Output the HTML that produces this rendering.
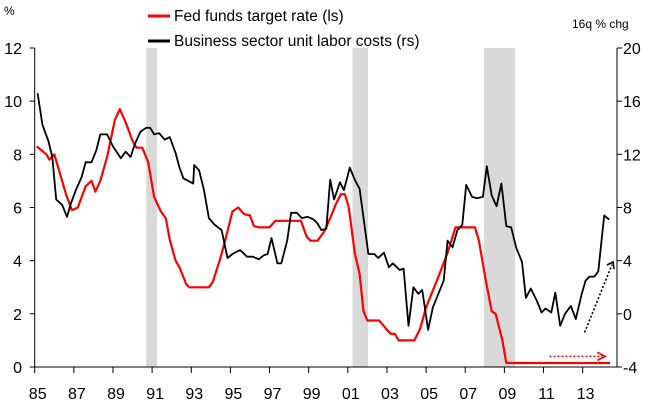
<!DOCTYPE html>
<html><head><meta charset="utf-8"><style>
body{margin:0;background:#fff;}
svg{display:block;font-family:"Liberation Sans",Arial,sans-serif;}
</style></head><body>
<svg id="c" width="653" height="404"></svg>
<script>
const recessions=[[1990.7,1991.25],[2001.24,2002.03],[2007.95,2009.55]];
const fedYears=[1985.1,1985.6,1985.75,1986.0,1986.2,1986.6,1986.9,1987.2,1987.6,1987.9,1988.1,1988.35,1988.7,1989.1,1989.35,1989.65,1990.0,1990.2,1990.5,1990.8,1991.1,1991.45,1991.7,1991.9,1992.2,1992.4,1992.75,1992.9,1993.9,1994.1,1994.45,1994.75,1995.1,1995.4,1995.7,1996.0,1996.2,1996.5,1997.0,1997.3,1998.6,1998.9,1999.1,1999.45,1999.8,2000.1,2000.4,2000.65,2000.85,2001.05,2001.35,2001.6,2001.8,2002.0,2002.6,2003.0,2003.2,2003.4,2003.6,2004.4,2004.7,2005.0,2005.55,2006.1,2006.5,2007.5,2007.7,2008.05,2008.35,2008.55,2008.9,2009.1,2014.4];
const fedRates=[8.3,8.0,7.8,8.0,7.5,6.5,5.9,6.0,6.8,7.0,6.6,7.0,7.9,9.3,9.7,9.2,8.5,8.25,8.25,7.7,6.4,5.85,5.6,4.8,4.0,3.75,3.1,3.0,3.0,3.2,4.0,4.8,5.85,6.0,5.75,5.7,5.3,5.25,5.25,5.5,5.5,4.9,4.75,4.75,5.1,5.6,6.15,6.5,6.5,6.0,4.3,3.5,2.1,1.75,1.75,1.4,1.25,1.25,1.0,1.0,1.45,2.25,3.25,4.3,5.25,5.25,4.75,3.25,2.1,2.0,1.0,0.15,0.15];
const ulcYears=[1985.15,1985.4,1985.7,1985.9,1986.1,1986.4,1986.65,1986.85,1987.1,1987.4,1987.6,1987.9,1988.15,1988.35,1988.7,1989.0,1989.4,1989.65,1989.9,1990.1,1990.4,1990.7,1990.9,1991.1,1991.35,1991.65,1991.9,1992.2,1992.4,1992.6,1993.1,1993.15,1993.4,1993.65,1993.9,1994.2,1994.55,1994.85,1995.1,1995.5,1995.85,1996.15,1996.45,1996.7,1996.9,1997.1,1997.4,1997.6,1997.9,1998.1,1998.4,1998.65,1998.95,1999.25,1999.45,1999.65,1999.9,2000.1,2000.3,2000.6,2000.8,2001.1,2001.35,2001.6,2002.05,2002.35,2002.55,2002.85,2003.1,2003.3,2003.65,2003.85,2004.1,2004.35,2004.6,2004.8,2005.1,2005.35,2005.6,2005.9,2006.1,2006.35,2006.6,2006.85,2007.05,2007.35,2007.6,2007.9,2008.1,2008.35,2008.6,2008.85,2009.1,2009.35,2009.6,2009.9,2010.1,2010.35,2010.65,2010.9,2011.1,2011.4,2011.6,2011.85,2012.1,2012.4,2012.65,2012.95,2013.15,2013.35,2013.6,2013.8,2014.1,2014.35];
const ulcValues=[16.6,14.2,13.0,11.8,8.6,8.2,7.3,8.3,9.3,10.3,11.4,11.4,12.3,13.5,13.5,12.6,11.7,12.2,11.8,12.7,13.7,14.0,14.0,13.5,13.6,13.1,13.3,12.1,11.0,10.2,9.8,11.2,10.8,9.3,7.2,6.7,6.3,4.2,4.5,4.8,4.3,4.3,4.1,4.4,4.5,5.7,3.8,3.8,5.5,7.6,7.6,7.2,7.3,7.1,6.8,6.3,6.4,10.1,8.6,9.9,9.3,11.0,10.1,9.4,4.5,4.5,4.2,4.6,3.5,3.8,3.3,3.4,-0.9,2.0,1.5,1.8,-1.2,0.5,1.4,2.5,5.5,5.0,6.3,6.7,9.7,8.8,8.7,8.8,11.1,8.9,8.1,9.8,6.6,6.5,5.0,3.9,1.2,1.9,1.0,0.1,0.4,0.1,1.6,-0.9,0.0,0.6,-0.4,1.5,2.5,2.8,2.8,3.2,7.4,7.1];
const leftTicks=[0,2,4,6,8,10,12];
const rightTicks=[-4,0,4,8,12,16,20];
const xTickYears=[1985,1987,1989,1991,1993,1995,1997,1999,2001,2003,2005,2007,2009,2011,2013];
const xTickLabels=["85","87","89","91","93","95","97","99","01","03","05","07","09","11","13"];

const NS="http://www.w3.org/2000/svg";
const svg=document.getElementById('c');
const X0=34.7,X1=617,Y0=367,Y1=48;
const x=y=>X0+(y-1985)*19.57;
const yl=v=>Y0-(v/12)*(Y0-Y1);
const yr=v=>Y0-((v+4)/24)*(Y0-Y1);
function el(t,a,txt){const e=document.createElementNS(NS,t);for(const k in a)e.setAttribute(k,a[k]);if(txt!=null)e.textContent=txt;svg.appendChild(e);return e;}

recessions.forEach((r,i)=>{
 const e=el('rect',{x:x(r[0]),y:Y1,width:x(r[1])-x(r[0]),height:Y0-Y1,fill:'#d9d9d9'});
 
 
});
let a=el('line',{x1:X0,y1:Y1,x2:X0,y2:Y0,stroke:'#000'});

a=el('line',{x1:X1,y1:Y1,x2:X1,y2:Y0,stroke:'#000'});

a=el('line',{x1:X0,y1:Y0,x2:X1,y2:Y0,stroke:'#000'});

leftTicks.forEach(v=>{
 el('line',{x1:X0-5,y1:yl(v),x2:X0,y2:yl(v),stroke:'#000'});
 const t=el('text',{x:22,y:yl(v)+6,'text-anchor':'end','font-size':16,fill:'#000'},String(v));
 
});
rightTicks.forEach(v=>{
 el('line',{x1:X1,y1:yr(v),x2:X1+5,y2:yr(v),stroke:'#000'});
 const t=el('text',{x:623,y:yr(v)+6,'font-size':16,fill:'#000'},String(v));
 
});
xTickYears.forEach((yv,i)=>{
 el('line',{x1:x(yv),y1:Y0,x2:x(yv),y2:Y0+6,stroke:'#000'});
 const t=el('text',{x:x(yv)+3,y:399,'text-anchor':'middle','font-size':16,fill:'#000'},xTickLabels[i]);
 
});
function path(xs,vs,fy,col,w,name){
 const d=xs.map((v,i)=>(i?'L':'M')+x(v).toFixed(1)+' '+fy(vs[i]).toFixed(1)).join(' ');
 const p=el('path',{d:d,fill:'none',stroke:col,'stroke-width':w,'stroke-linejoin':'round'});
 
}
path(fedYears,fedRates,yl,'#ff0000',2.2,'fed-funds-line');
path(ulcYears,ulcValues,yr,'#000',1.8,'unit-labor-costs-line');
let ar=el('line',{x1:x(2011.3),y1:yl(0.4),x2:x(2014.0),y2:yl(0.4),stroke:'#ff0000','stroke-width':1.6,'stroke-dasharray':'2,2'});

el('path',{d:`M${x(2014.0)-5} ${yl(0.4)-4} L${x(2014.15)} ${yl(0.4)} L${x(2014.0)-5} ${yl(0.4)+4}`,fill:'none',stroke:'#ff0000','stroke-width':1.6});
ar=el('line',{x1:x(2013.1),y1:yr(-1.4),x2:x(2014.5),y2:yr(3.7),stroke:'#000','stroke-width':1.6,'stroke-dasharray':'2,2'});

const ex=x(2014.55),ey=yr(3.9);
el('path',{d:`M${ex-6} ${ey+3} L${ex} ${ey} L${ex+1} ${ey+7}`,fill:'none',stroke:'#000','stroke-width':1.6});
</script>
<svg style="position:absolute;left:0;top:0" width="653" height="60">
<text x="4" y="15" font-size="12" font-family="Liberation Sans,sans-serif">%</text>
<line x1="148" y1="16" x2="170" y2="16" stroke="#ff0000" stroke-width="3"/>
<text x="174" y="21" font-size="15.5" font-family="Liberation Sans,sans-serif">Fed funds target rate (ls)</text>
<line x1="148" y1="41" x2="170" y2="41" stroke="#000" stroke-width="3"/>
<text x="174" y="46" font-size="15.5" font-family="Liberation Sans,sans-serif">Business sector unit labor costs (rs)</text>
<text x="572" y="28" font-size="12" font-family="Liberation Sans,sans-serif">16q % chg</text>
</svg>
</body></html>
